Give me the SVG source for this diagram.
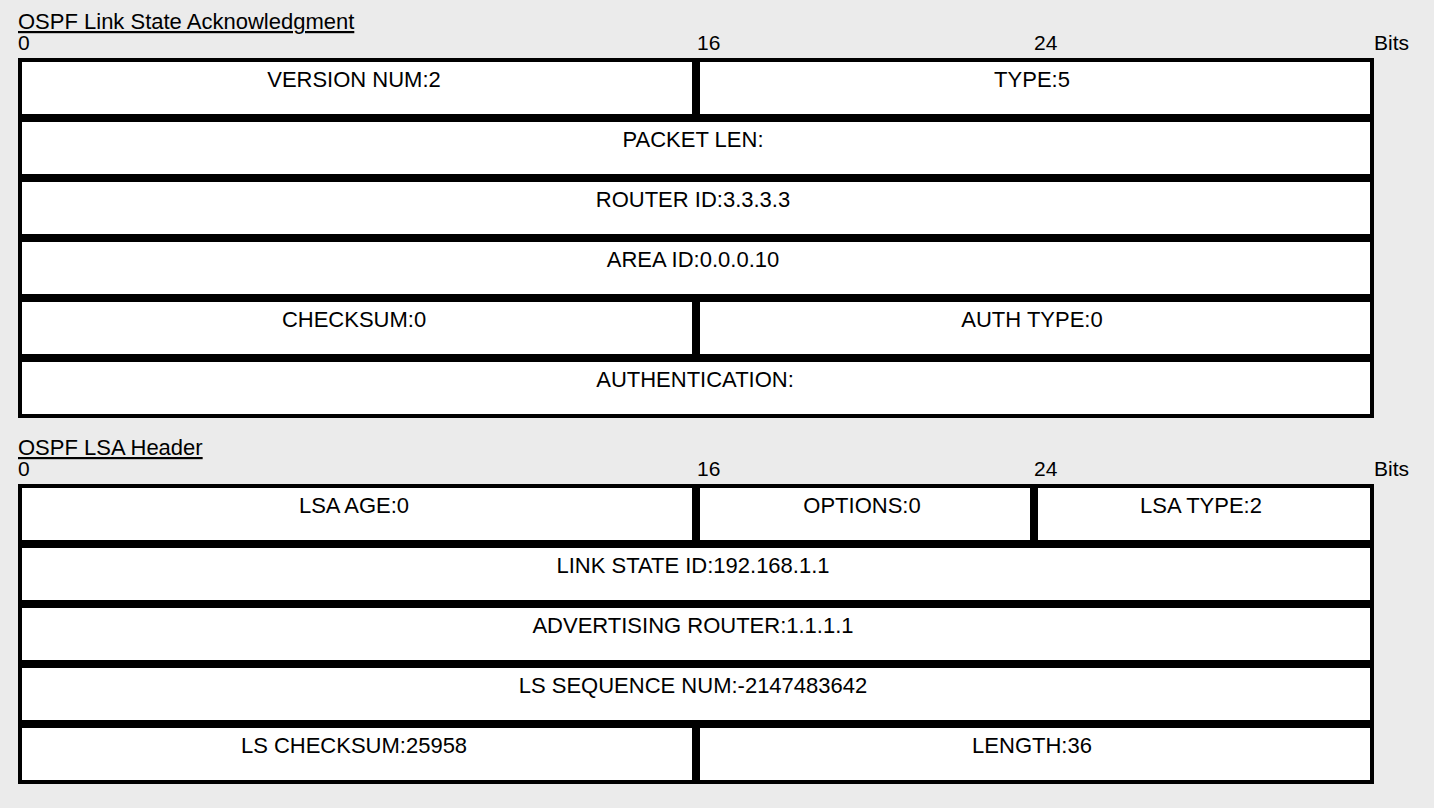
<svg xmlns="http://www.w3.org/2000/svg" width="1434" height="808" viewBox="0 0 1434 808">
  <style>
    .bg { fill: #ebebeb; }
    .cell rect { fill: #ffffff; stroke: #000000; stroke-width: 4; }
    .cell text { font-family: "Liberation Sans", Arial, sans-serif; font-size: 22px; fill: #000000; text-anchor: middle; }
    .title { font-family: "Liberation Sans", Arial, sans-serif; font-size: 22px; fill: #000000; text-decoration: underline; }
    .axis { font-family: "Liberation Sans", Arial, sans-serif; font-size: 21px; fill: #000000; }
  </style>
  <rect class="bg" x="0" y="0" width="1434" height="808"/>

  <!-- Link State Acknowledgment packet -->
  <g id="ack-header">
    <text class="title" x="18" y="29">OSPF Link State Acknowledgment</text>
    <text class="axis" x="18" y="50">0</text>
    <text class="axis" x="697" y="50">16</text>
    <text class="axis" x="1034" y="50">24</text>
    <text class="axis" x="1374" y="50">Bits</text>
  </g>
  <g id="ack-version" class="cell"><rect x="20" y="60" width="674" height="56"/><text x="354" y="87">VERSION NUM:2</text></g>
  <g id="ack-type" class="cell"><rect x="698" y="60" width="674" height="56"/><text x="1032" y="87">TYPE:5</text></g>
  <g id="ack-packet-len" class="cell"><rect x="20" y="120" width="1352" height="56"/><text x="693" y="147">PACKET LEN:</text></g>
  <g id="ack-router-id" class="cell"><rect x="20" y="180" width="1352" height="56"/><text x="693" y="207">ROUTER ID:3.3.3.3</text></g>
  <g id="ack-area-id" class="cell"><rect x="20" y="240" width="1352" height="56"/><text x="693" y="267">AREA ID:0.0.0.10</text></g>
  <g id="ack-checksum" class="cell"><rect x="20" y="300" width="674" height="56"/><text x="354" y="327">CHECKSUM:0</text></g>
  <g id="ack-auth-type" class="cell"><rect x="698" y="300" width="674" height="56"/><text x="1032" y="327">AUTH TYPE:0</text></g>
  <g id="ack-authentication" class="cell"><rect x="20" y="360" width="1352" height="56"/><text x="695" y="387">AUTHENTICATION:</text></g>

  <!-- LSA header -->
  <g id="lsa-header">
    <text class="title" x="18" y="455">OSPF LSA Header</text>
    <text class="axis" x="18" y="476">0</text>
    <text class="axis" x="697" y="476">16</text>
    <text class="axis" x="1034" y="476">24</text>
    <text class="axis" x="1374" y="476">Bits</text>
  </g>
  <g id="lsa-age" class="cell"><rect x="20" y="486" width="674" height="56"/><text x="354" y="513">LSA AGE:0</text></g>
  <g id="lsa-options" class="cell"><rect x="698" y="486" width="334" height="56"/><text x="862" y="513">OPTIONS:0</text></g>
  <g id="lsa-type" class="cell"><rect x="1036" y="486" width="336" height="56"/><text x="1201" y="513">LSA TYPE:2</text></g>
  <g id="lsa-link-state-id" class="cell"><rect x="20" y="546" width="1352" height="56"/><text x="693" y="573">LINK STATE ID:192.168.1.1</text></g>
  <g id="lsa-adv-router" class="cell"><rect x="20" y="606" width="1352" height="56"/><text x="693" y="633">ADVERTISING ROUTER:1.1.1.1</text></g>
  <g id="lsa-seq-num" class="cell"><rect x="20" y="666" width="1352" height="56"/><text x="693" y="693">LS SEQUENCE NUM:-2147483642</text></g>
  <g id="lsa-checksum" class="cell"><rect x="20" y="726" width="674" height="56"/><text x="354" y="753">LS CHECKSUM:25958</text></g>
  <g id="lsa-length" class="cell"><rect x="698" y="726" width="674" height="56"/><text x="1032" y="753">LENGTH:36</text></g>

  <!-- no connectors in this diagram -->
  <g id="connectors"/>
</svg>
